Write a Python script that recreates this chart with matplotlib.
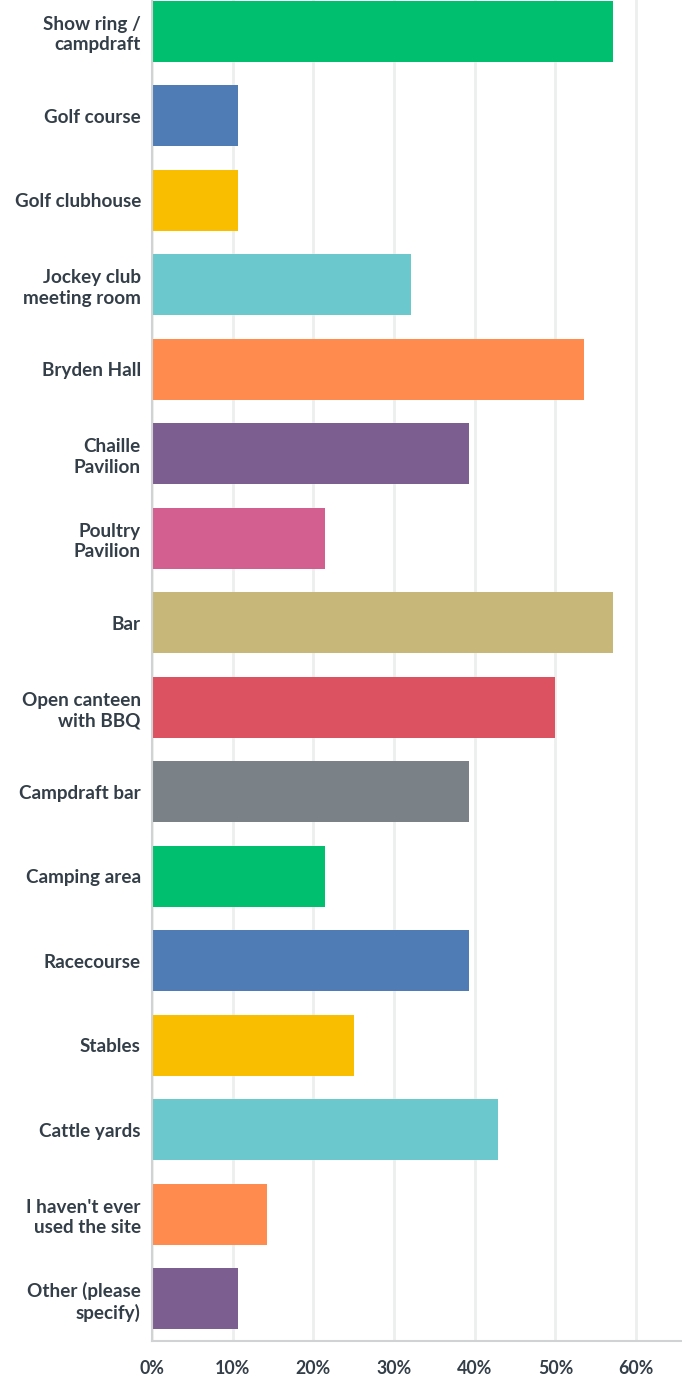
import matplotlib.pyplot as plt
from matplotlib.ticker import FuncFormatter

# Survey responses: which parts of the site have been used
categories = [
    "Show ring /\ncampdraft", "Golf course", "Golf clubhouse",
    "Jockey club\nmeeting room", "Bryden Hall", "Chaille\nPavilion",
    "Poultry\nPavilion", "Bar", "Open canteen\nwith BBQ", "Campdraft bar",
    "Camping area", "Racecourse", "Stables", "Cattle yards",
    "I haven't ever\nused the site", "Other (please\nspecify)",
]
percent = [57.14, 10.71, 10.71, 32.14, 53.57, 39.29, 21.43, 57.14,
           50.00, 39.29, 21.43, 39.29, 25.00, 42.86, 14.29, 10.71]
x_ticks = [0, 10, 20, 30, 40, 50, 60]

palette = ["#00BF6F", "#507CB6", "#F9BE00", "#6BC8CD", "#FF8B4F",
           "#7D5E90", "#D25F90", "#C7B879", "#DC5261", "#7A8187"]
colors = [palette[i % len(palette)] for i in range(len(categories))]

TEXT = "#333E48"

fig = plt.figure(figsize=(6.82, 13.8), dpi=100)
ax = fig.add_axes([152 / 682, 39 / 1380, 530 / 682, 1352 / 1380])

ypos = list(range(len(categories)))
ax.barh(ypos, percent, height=0.72, color=colors, zorder=3)

ax.set_ylim(len(categories) - 0.5, -0.5)
ax.set_xlim(0, 65.7)

ax.set_yticks(ypos)
ax.set_yticklabels(categories, fontsize=13.6, fontweight="bold",
                   color=TEXT, family="Lato", linespacing=1.25)
ax.set_xticks(x_ticks)
ax.xaxis.set_major_formatter(FuncFormatter(lambda v, _: f"{int(v)}%"))
for lbl in ax.get_xticklabels():
    lbl.set_fontsize(12.8)
    lbl.set_fontweight("bold")
    lbl.set_color(TEXT)
    lbl.set_family("Lato")

ax.tick_params(axis="y", length=0, pad=8)
ax.tick_params(axis="x", length=0, pad=14)

ax.grid(axis="x", color="#EDEEEE", linewidth=2, zorder=0)
ax.grid(axis="y", visible=False)

for side in ("top", "right"):
    ax.spines[side].set_visible(False)
for side in ("left", "bottom"):
    ax.spines[side].set_color("#D0D2D3")
    ax.spines[side].set_linewidth(1.5)
    ax.spines[side].set_zorder(4)

fig.savefig("out.png", dpi=100)
